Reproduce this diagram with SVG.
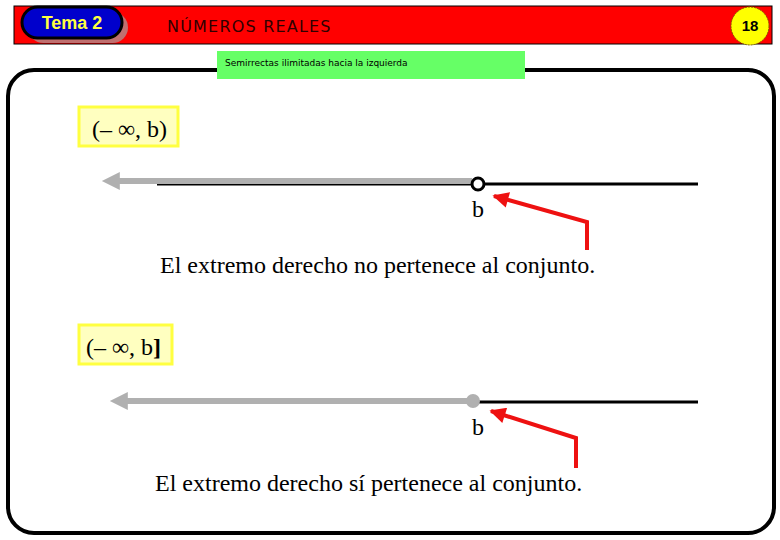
<svg xmlns="http://www.w3.org/2000/svg" width="780" height="540" viewBox="0 0 780 540">
<style>
.serif{font-family:"Liberation Serif","Times New Roman",serif;fill:#000}
.ybox{fill:#ffffc0;stroke:#ffff40;stroke-width:3}
.gray{stroke:#b0b0b0;stroke-width:6;fill:none}
.blk{stroke:#000;stroke-width:3;fill:none}
.red{stroke:#ee1111;stroke-width:4;fill:none;stroke-linejoin:miter}
</style>
<defs>
<marker id="ga" viewBox="0 0 10 10" refX="1" refY="5" markerWidth="3.4" markerHeight="3" markerUnits="strokeWidth" orient="auto-start-reverse"><path d="M0,0 L10,5 L0,10 z" fill="#b0b0b0"/></marker>
<marker id="ra" viewBox="0 0 10 10" refX="9" refY="5" markerWidth="4.5" markerHeight="4" markerUnits="strokeWidth" orient="auto"><path d="M0,0 L10,5 L0,10 z" fill="#ee1111"/></marker>
</defs>
<rect width="780" height="540" fill="#fff"/>
<g id="header">
<rect x="14" y="6" width="758" height="38" fill="#ff0000" stroke="#000" stroke-width="1"/>
<rect x="28" y="12" width="100" height="31" rx="15.5" fill="#c07070"/>
<rect x="22" y="7" width="100" height="31" rx="15.5" fill="#0000cc" stroke="#000" stroke-width="3"/>
<text x="72" y="29" text-anchor="middle" font-family="Liberation Sans,Arial,sans-serif" font-weight="bold" font-size="18" fill="#ffff40">Tema 2</text>
<text x="167" y="32" font-family="DejaVu Sans,Verdana,sans-serif" font-size="16" letter-spacing="1.2" fill="#300000">NÚMEROS REALES</text>
<circle cx="750" cy="26" r="19" fill="#ffff00" stroke="#806000" stroke-width="1" stroke-dasharray="2 1"/>
<text x="750" y="31" text-anchor="middle" font-family="Liberation Sans,Arial,sans-serif" font-weight="bold" font-size="15" fill="#000">18</text>
</g>
<g id="frame">
<rect x="8" y="70" width="766" height="463" rx="26" fill="none" stroke="#000" stroke-width="4"/>
</g>
<g id="subtitle">
<rect x="217" y="51" width="308" height="28" fill="#66ff66"/>
<text x="225" y="66" font-family="DejaVu Sans,Verdana,sans-serif" font-size="9" fill="#000">Semirrectas ilimitadas hacia la izquierda</text>
</g>
<g id="label1">
<rect x="79" y="107" width="99" height="39" class="ybox"/>
<text x="92" y="137" class="serif" font-size="24">(– ∞, b)</text>
</g>
<g id="label2">
<rect x="79" y="325" width="93" height="39" class="ybox"/>
<text x="86" y="355" class="serif" font-size="24">(– ∞, b<tspan font-weight="bold">]</tspan></text>
</g>
<g id="connectors">
<line x1="157" y1="184" x2="698" y2="184" class="blk"/>
<line x1="472" y1="181" x2="118" y2="181" class="gray" marker-end="url(#ga)"/>
<circle cx="478" cy="184" r="6" fill="#fff" stroke="#000" stroke-width="3"/>
<polyline points="587,250 587,222 494,196" class="red" marker-end="url(#ra)"/>
<line x1="473" y1="402" x2="698" y2="402" class="blk"/>
<line x1="468" y1="401" x2="126" y2="401" class="gray" marker-end="url(#ga)"/>
<circle cx="473" cy="401" r="7" fill="#b0b0b0"/>
<polyline points="576,468 576,438 491,411" class="red" marker-end="url(#ra)"/>
</g>
<g id="texts">
<text x="478" y="217" text-anchor="middle" class="serif" font-size="24">b</text>
<text x="160" y="273" class="serif" font-size="24">El extremo derecho no pertenece al conjunto.</text>
<text x="478" y="435" text-anchor="middle" class="serif" font-size="24">b</text>
<text x="155" y="491" class="serif" font-size="24">El extremo derecho sí pertenece al conjunto.</text>
</g>
</svg>
